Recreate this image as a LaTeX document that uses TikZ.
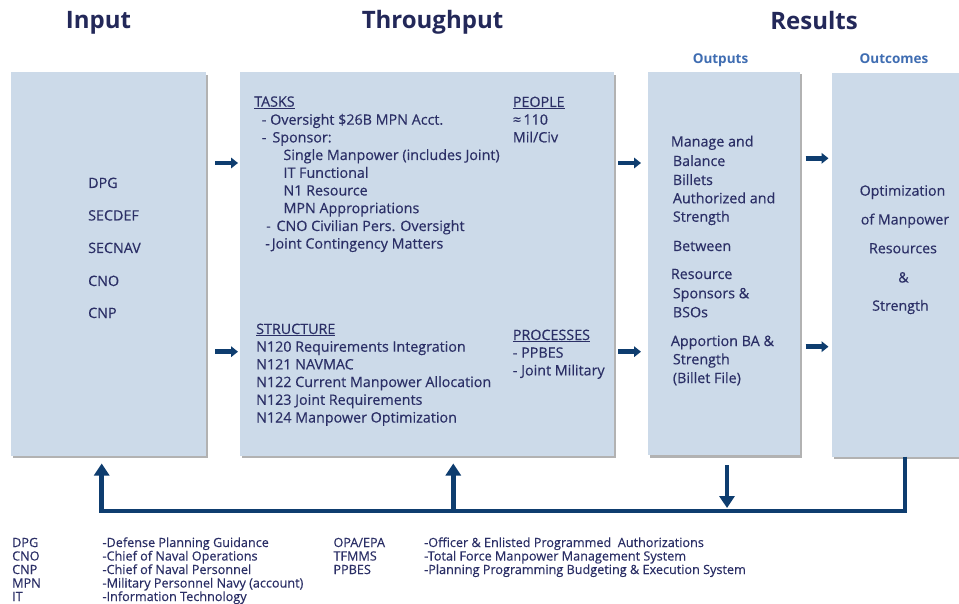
\documentclass[tikz,border=0pt]{standalone}
\usepackage{fontspec}
\setmainfont{Open Sans}
\newfontfamily\bodyfont[FakeBold=0.35]{Open Sans}
\usetikzlibrary{arrows.meta,shadows}
\definecolor{boxfill}{HTML}{CCDAE9}
\definecolor{txt}{HTML}{2B2F66}
\definecolor{ttl}{HTML}{232859}
\definecolor{subc}{HTML}{3F6DB2}
\definecolor{arrc}{HTML}{0E3D6F}
\begin{document}
\begin{tikzpicture}[x=1pt,y=-1pt,
  box/.style={fill=boxfill,draw=none,inner sep=0pt,outer sep=0pt,anchor=north west,
    drop shadow={shadow xshift=2pt,shadow yshift=-2.5pt,opacity=0.3,fill=black}},
  tx/.style={anchor=base west,inner sep=0pt,text=txt,font=\bodyfont\fontsize{14.3}{16}\selectfont},
  txc/.style={anchor=base,inner sep=0pt,text=txt,font=\bodyfont\fontsize{14.2}{16}\selectfont},
  lg/.style={anchor=base west,inner sep=0pt,text=txt,font=\bodyfont\fontsize{12.65}{14}\selectfont},
  ttlst/.style={anchor=base,inner sep=0pt,text=ttl,font=\fontsize{24}{28}\selectfont\bfseries},
  subst/.style={anchor=base,inner sep=0pt,text=subc,font=\fontsize{13.5}{16}\selectfont\bfseries},
  harr/.style={draw=arrc,line width=4.5pt,-{Triangle[length=7pt,width=10.5pt]}},
  fbl/.style={draw=arrc,line width=4.5pt,line join=miter}
]
\useasboundingbox[fill=white] (0,0) rectangle (959,604);

% titles
\node[ttlst] (tIn) at (98.5,29) {Input};
\node[ttlst] (tThr) at (432.5,29) {Throughput};
\node[ttlst] (tRes) at (814,29.3) {Results};
\node[subst] (tOutp) at (720.5,63.5) {Outputs};
\node[subst] (tOutc) at (894,63.5) {Outcomes};

% boxes
\node[box,minimum width=194.7pt,minimum height=383pt] (in) at (11,72.5) {};
\node[box,minimum width=374.5pt,minimum height=383pt] (thr) at (239.5,72.5) {};
\node[box,minimum width=152.5pt,minimum height=383pt] (outp) at (647.5,72) {};
\node[box,minimum width=127pt,minimum height=383.4pt] (outc) at (832.3,73.3) {};

% input text
\node[tx] (i1) at (88,188) {DPG};
\node[tx] (i2) at (88,220.5) {SECDEF};
\node[tx] (i3) at (88,253) {SECNAV};
\node[tx] (i4) at (88,286) {CNO};
\node[tx] (i5) at (88,318) {CNP};

% throughput: tasks
\node[tx] (ta0) at (254,106.7) {\underline{TASKS}};
\node[tx] (ta1) at (261.7,124.7) {- Oversight \$26B MPN Acct.};
\node[tx] (ta2) at (261.7,142.4) {-\hspace{6pt}Sponsor:};
\node[tx] (ta3) at (283.3,160) {Single Manpower (includes Joint)};
\node[tx] (ta4) at (283.3,177.8) {IT Functional};
\node[tx] (ta5) at (283.3,195.5) {N1 Resource};
\node[tx] (ta6) at (283.3,213.2) {MPN Appropriations};
\node[tx] (ta7) at (266,231) {- \hspace{2pt}CNO Civilian Pers. Oversight};
\node[tx] (ta8) at (265,248.6) {-\hspace{2pt}Joint Contingency Matters};
% people
\node[tx] (pe0) at (512.7,107) {\underline{PEOPLE}};
\node[tx] (pe1) at (512.7,124.7) {≈\,110};
\node[tx] (pe2) at (512.7,142.4) {Mil/Civ};
% structure
\node[tx] (st0) at (256,334) {\underline{STRUCTURE}};
\node[tx] (st1) at (256,351.7) {N120 Requirements Integration};
\node[tx] (st2) at (256,369.4) {N121 NAVMAC};
\node[tx] (st3) at (256,387) {N122 Current Manpower Allocation};
\node[tx] (st4) at (256,404.8) {N123 Joint Requirements};
\node[tx] (st5) at (256,422.5) {N124 Manpower Optimization};
% processes
\node[tx] (pr0) at (512.7,340) {\underline{PROCESSES}};
\node[tx] (pr1) at (512.7,357.7) {- PPBES};
\node[tx] (pr2) at (512.7,375.4) {- Joint Military};

% outputs text
\node[tx] (o1) at (670.7,146.5) {Manage and};
\node[tx] (o2) at (672.7,166) {Balance};
\node[tx] (o3) at (672.7,185) {Billets};
\node[tx] (o4) at (672.7,203.3) {Authorized and};
\node[tx] (o5) at (672.7,221.7) {Strength};
\node[tx] (o6) at (672.7,251) {Between};
\node[tx] (o7) at (670.7,279) {Resource};
\node[tx] (o8) at (672.7,298.3) {Sponsors \&};
\node[tx] (o9) at (672.7,317.3) {BSOs};
\node[tx] (o10) at (670.7,346) {Apportion BA \&};
\node[tx] (o11) at (672.7,364.3) {Strength};
\node[tx] (o12) at (672.7,383) {(Billet File)};

% outcomes text
\node[txc] (c1) at (902.5,195.7) {Optimization};
\node[txc] (c2) at (905,224.5) {of Manpower};
\node[txc] (c3) at (903,253.3) {Resources};
\node[txc] (c4) at (903.5,282.5) {\&};
\node[txc] (c5) at (900.5,310.7) {Strength};

% horizontal arrows
\coordinate (a1s) at (215,163);   \coordinate (a1e) at (238,163);
\coordinate (a2s) at (215,351.7); \coordinate (a2e) at (238,351.7);
\coordinate (a3s) at (618,163);   \coordinate (a3e) at (641,163);
\coordinate (a4s) at (618,351.7); \coordinate (a4e) at (641,351.7);
\coordinate (a5s) at (805.7,158.3); \coordinate (a5e) at (828.5,158.3);
\coordinate (a6s) at (805.7,346.7); \coordinate (a6e) at (828.5,346.7);
\draw[harr] (a1s) -- (a1e);
\draw[harr] (a2s) -- (a2e);
\draw[harr] (a3s) -- (a3e);
\draw[harr] (a4s) -- (a4e);
\draw[harr] (a5s) -- (a5e);
\draw[harr] (a6s) -- (a6e);

% feedback loop
\coordinate (fbR) at (905,511);
\coordinate (fbL) at (101.7,511);
\coordinate (fbLt) at (101.7,463.5);
\coordinate (fbT) at (453.3,511);
\coordinate (fbTt) at (453.3,463.5);
\coordinate (fbOs) at (727,465);
\coordinate (fbOt) at (727,508);
\draw[fbl,-{Triangle[length=12pt,width=15pt]}] (outc.south -| fbR) -- (fbR) -- (fbL) -- (fbLt);
\draw[fbl,-{Triangle[length=12pt,width=15pt]}] (fbT) -- (fbTt);
\draw[fbl,-{Triangle[length=12pt,width=15pt]}] (fbOs) -- (fbOt);

% legend
\node[lg] (l1a) at (12,547) {DPG};
\node[lg] (l2a) at (12,560.5) {CNO};
\node[lg] (l3a) at (12,574) {CNP};
\node[lg] (l4a) at (12,587.5) {MPN};
\node[lg] (l5a) at (12,601) {IT};
\node[lg] (l1b) at (102.3,547) {-Defense Planning Guidance};
\node[lg] (l2b) at (102.3,560.5) {-Chief of Naval Operations};
\node[lg] (l3b) at (102.3,574) {-Chief of Naval Personnel};
\node[lg] (l4b) at (102.3,587.5) {-Military Personnel Navy (account)};
\node[lg] (l5b) at (102.3,601) {-Information Technology};
\node[lg] (r1a) at (333.3,547) {OPA/EPA};
\node[lg] (r2a) at (333.3,560.5) {TFMMS};
\node[lg] (r3a) at (333.3,574) {PPBES};
\node[lg] (r1b) at (424,547) {-Officer \& Enlisted Programmed\ \ Authorizations};
\node[lg] (r2b) at (424,560.5) {-Total Force Manpower Management System};
\node[lg] (r3b) at (424,574) {-Planning Programming Budgeting \& Execution System};
\end{tikzpicture}
\end{document}
